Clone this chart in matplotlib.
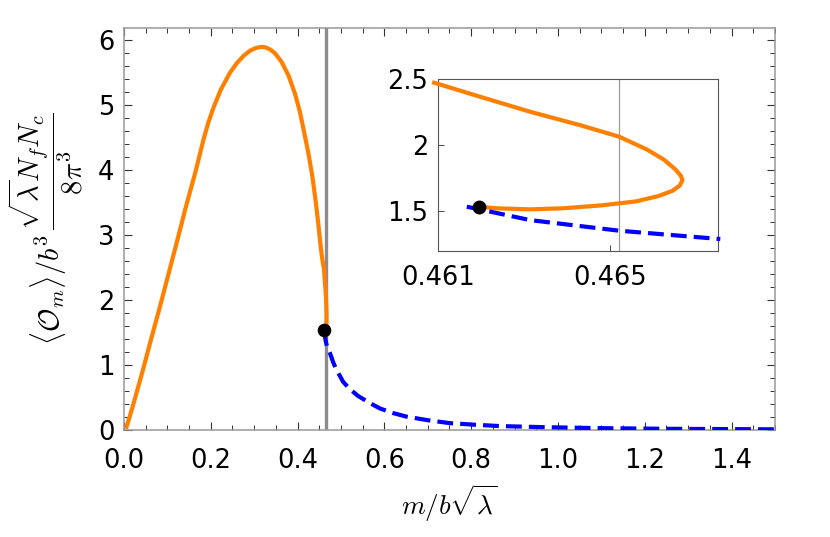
import matplotlib
matplotlib.use("Agg")
import matplotlib.pyplot as plt
from matplotlib.ticker import MultipleLocator

plt.rcParams['mathtext.fontset'] = 'cm'
plt.rcParams['font.family'] = ['DejaVu Sans']

# orange branch, main part
orange_x = [0.006, 0.020, 0.0415, 0.062, 0.083, 0.103, 0.123, 0.143, 0.164, 0.183,
            0.194, 0.207, 0.223, 0.244, 0.260, 0.276, 0.290, 0.305, 0.317, 0.327,
            0.338, 0.348, 0.363, 0.379, 0.394, 0.405, 0.415, 0.425, 0.434, 0.442,
            0.448, 0.4535, 0.4575]
orange_y = [0.05, 0.36, 0.87, 1.385, 1.90, 2.41, 2.92, 3.44, 3.95, 4.46,
            4.72, 4.97, 5.23, 5.49, 5.64, 5.755, 5.83, 5.875, 5.89, 5.88,
            5.845, 5.79, 5.66, 5.45, 5.17, 4.90, 4.58, 4.25, 3.90, 3.50,
            3.15, 2.80, 2.60]

# orange branch near the turning point
turn_x = [0.46091, 0.46198, 0.46314, 0.46430, 0.46521, 0.46585, 0.46625, 0.46652,
          0.46665, 0.46668, 0.46662, 0.46645, 0.46612, 0.46560, 0.46480, 0.46391,
          0.46314, 0.46236, 0.46196]
turn_y = [2.47, 2.364, 2.251, 2.15, 2.063, 1.967, 1.890, 1.815,
          1.765, 1.735, 1.695, 1.655, 1.615, 1.575, 1.545, 1.523,
          1.515, 1.523, 1.535]

# blue dashed branch
blue_x = [0.46167, 0.46314, 0.46521, 0.46756, 0.4747, 0.482, 0.490, 0.505, 0.520,
          0.540, 0.565, 0.590, 0.620, 0.651, 0.70, 0.751, 0.81, 0.866, 0.974,
          1.1, 1.25, 1.5]
blue_y = [1.535, 1.434, 1.354, 1.291, 1.18, 1.04, 0.92, 0.74, 0.63,
          0.52, 0.42, 0.33, 0.26, 0.205, 0.15, 0.105, 0.08, 0.06, 0.042,
          0.028, 0.018, 0.01]
n_inset_blue = 4

dot_x, dot_y = 0.46196, 1.535
m_crit = 0.4652

orange = '#FF8000'
blue = '#0000FF'

fig = plt.figure(figsize=(8.3, 5.37), dpi=100)
ax = fig.add_axes([0.1494, 0.1993, 0.7843, 0.7486])

ax.axvline(m_crit, color='#8c8c8c', lw=2.4, zorder=1)
ax.plot(orange_x + turn_x, orange_y + turn_y, color=orange, lw=3.0, zorder=3,
        solid_joinstyle='round')
ax.plot(blue_x, blue_y, color=blue, lw=3.0, dashes=(3.8, 1.7), zorder=3)
ax.plot([dot_x], [dot_y], 'o', color='black', ms=8.8, zorder=5)

ax.set_xlim(0, 1.5)
ax.set_ylim(0, 6.18)
ax.xaxis.set_major_locator(MultipleLocator(0.2))
ax.xaxis.set_minor_locator(MultipleLocator(0.05))
ax.yaxis.set_major_locator(MultipleLocator(1))
ax.yaxis.set_minor_locator(MultipleLocator(0.2))
ax.set_xticks([0, 0.2, 0.4, 0.6, 0.8, 1.0, 1.2, 1.4])
ax.set_xticklabels(['0.0', '0.2', '0.4', '0.6', '0.8', '1.0', '1.2', '1.4'])
ax.set_yticks([0, 1, 2, 3, 4, 5, 6])
ax.set_yticklabels(['0', '1', '2', '3', '4', '5', '6'])
ax.tick_params(which='both', direction='in', top=True, right=True,
               color='#333333', labelsize=18.5)
ax.tick_params(which='major', length=5.8, width=0.8)
ax.tick_params(which='minor', length=3.6, width=0.7)
ax.tick_params(axis='x', pad=13)
ax.tick_params(axis='y', pad=7)
for s in ax.spines.values():
    s.set_color('#999999')
    s.set_linewidth(1.1)

ax.set_xlabel(r'$m/b\sqrt{\lambda}$', fontsize=19.5, labelpad=6)
ax.set_ylabel(r'$\langle \mathcal{O}_m \rangle/b^3\,\dfrac{\sqrt{\lambda}N_f N_c}{8\pi^3}$',
              fontsize=20.5, labelpad=9)

# inset
axi = fig.add_axes([0.5277, 0.5331, 0.337, 0.3203])
axi.set_facecolor('white')
axi.axvline(m_crit, color='#999999', lw=0.9, zorder=1)
axi.plot(turn_x, turn_y, color=orange, lw=3.0, zorder=3, clip_on=False,
         solid_joinstyle='round')
axi.plot(blue_x[:n_inset_blue], blue_y[:n_inset_blue], color=blue, lw=3.0,
         dashes=(3.8, 1.7), zorder=3, clip_on=False)
axi.plot([dot_x], [dot_y], 'o', color='black', ms=9, zorder=5, clip_on=False)
axi.set_xlim(0.461, 0.4675)
axi.set_ylim(1.203, 2.5)
axi.set_xticks([0.461, 0.465])
axi.set_xticklabels(['0.461', '0.465'])
axi.set_yticks([1.5, 2, 2.5])
axi.set_yticklabels(['1.5', '2', '2.5'])
axi.tick_params(direction='in', length=4.3, width=0.7, color='#444444',
                labelsize=18.5)
axi.tick_params(axis='x', pad=10)
axi.tick_params(axis='y', pad=7)
for s in axi.spines.values():
    s.set_color('#555555')
    s.set_linewidth(0.8)

fig.savefig('out.png', dpi=100)
